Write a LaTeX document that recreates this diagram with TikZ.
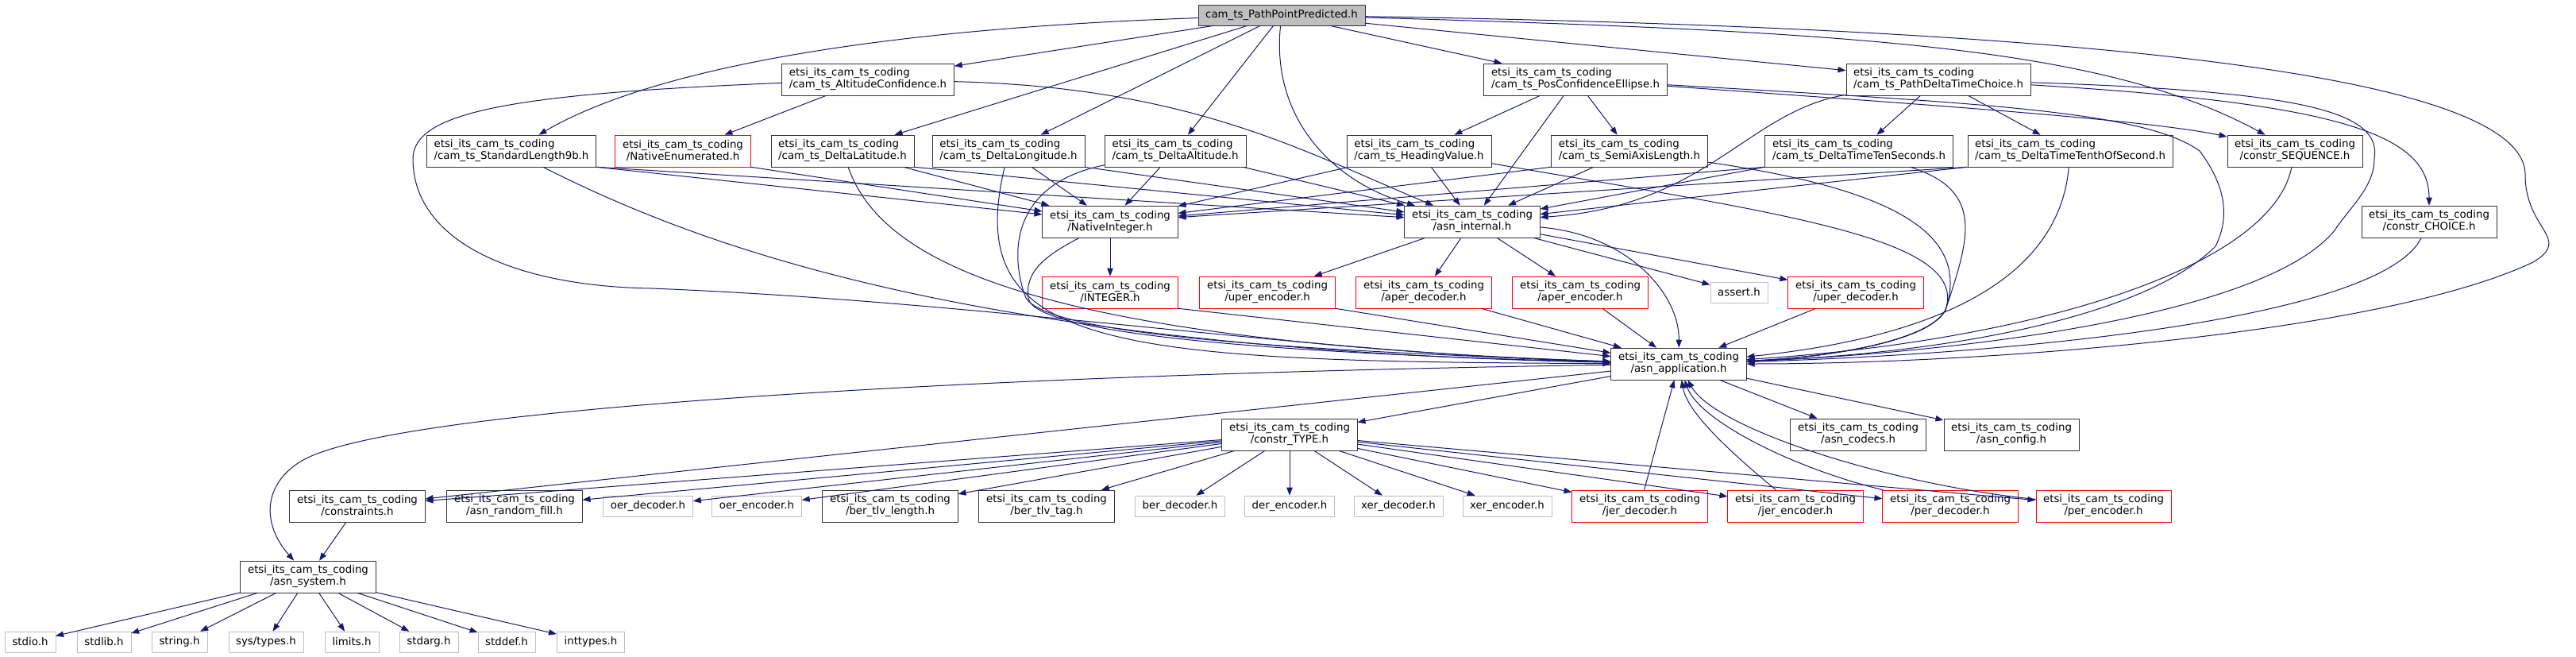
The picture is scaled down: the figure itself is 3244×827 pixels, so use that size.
\documentclass[tikz,border=0pt]{standalone}
\usepackage{fontspec}
\setmainfont{DejaVu Sans}
\usetikzlibrary{arrows.meta}
\definecolor{edgeblue}{RGB}{25,25,112}
\newcommand{\pkgdir}{etsi\_its\_cam\_ts\_coding}

\begin{document}
\begin{tikzpicture}[x=0.75pt, y=-0.75pt, >={Triangle[length=7.5pt,width=5.5pt]},
  every node/.style={font=\fontsize{10}{11.25}\selectfont, inner xsep=7pt, inner ysep=2pt},
  hdr/.style={draw=black!80, fill=white, minimum height=30pt, align=center},
  lhdr/.style={hdr, align=left},
  trunc/.style={hdr, draw=red},
  sys/.style={draw=black!25, fill=white, minimum height=19.5pt},
  rootbox/.style={draw=black!80, fill=black!25, minimum height=19.5pt},
  dep/.style={->, draw=edgeblue, line width=0.75pt}]
\useasboundingbox (0,0) rectangle (3244,827);

% headers
\node (root) at (1614,19) [rootbox] {cam\_ts\_PathPointPredicted.h};
\node (altconf) at (1093,100) [lhdr] {\pkgdir\\/cam\_ts\_AltitudeConfidence.h};
\node (poscell) at (1984,100) [lhdr] {\pkgdir\\/cam\_ts\_PosConfidenceEllipse.h};
\node (pathdtc) at (2441,100) [lhdr] {\pkgdir\\/cam\_ts\_PathDeltaTimeChoice.h};
\node (stdlen) at (644,190) [lhdr] {\pkgdir\\/cam\_ts\_StandardLength9b.h};
\node (natenum) at (860,190) [trunc] {\pkgdir\\/NativeEnumerated.h};
\node (dlat) at (1061,190) [lhdr] {\pkgdir\\/cam\_ts\_DeltaLatitude.h};
\node (dlon) at (1270,190) [lhdr] {\pkgdir\\/cam\_ts\_DeltaLongitude.h};
\node (dalt) at (1480,190) [lhdr] {\pkgdir\\/cam\_ts\_DeltaAltitude.h};
\node (heading) at (1787,190) [lhdr] {\pkgdir\\/cam\_ts\_HeadingValue.h};
\node (semiaxis) at (2052,190) [lhdr] {\pkgdir\\/cam\_ts\_SemiAxisLength.h};
\node (dtten) at (2341,190) [lhdr] {\pkgdir\\/cam\_ts\_DeltaTimeTenSeconds.h};
\node (dttenth) at (2607,190) [lhdr] {\pkgdir\\/cam\_ts\_DeltaTimeTenthOfSecond.h};
\node (cseq) at (2890,190) [hdr] {\pkgdir\\/constr\_SEQUENCE.h};
\node (natint) at (1398,279) [hdr] {\pkgdir\\/NativeInteger.h};
\node (asnint) at (1854,279) [hdr] {\pkgdir\\/asn\_internal.h};
\node (cchoice) at (3059,279) [hdr] {\pkgdir\\/constr\_CHOICE.h};
\node (integer) at (1398,368) [trunc] {\pkgdir\\/INTEGER.h};
\node (uperenc) at (1596,368) [trunc] {\pkgdir\\/uper\_encoder.h};
\node (aperdec) at (1793,368) [trunc] {\pkgdir\\/aper\_decoder.h};
\node (aperenc) at (1990,368) [trunc] {\pkgdir\\/aper\_encoder.h};
\node (assert) at (2190,368) [sys] {assert.h};
\node (uperdec) at (2337,368) [trunc] {\pkgdir\\/uper\_decoder.h};
\node (asnapp) at (2114,458) [hdr] {\pkgdir\\/asn\_application.h};
\node (ctype) at (1624,547) [hdr] {\pkgdir\\/constr\_TYPE.h};
\node (asncodecs) at (2340,547) [hdr] {\pkgdir\\/asn\_codecs.h};
\node (asnconfig) at (2533,547) [hdr] {\pkgdir\\/asn\_config.h};
\node (constraints) at (450,637) [hdr] {\pkgdir\\/constraints.h};
\node (randfill) at (648,637) [hdr] {\pkgdir\\/asn\_random\_fill.h};
\node (oerdec) at (816,637) [sys] {oer\_decoder.h};
\node (oerenc) at (953,637) [sys] {oer\_encoder.h};
\node (bertlvlen) at (1121,637) [hdr] {\pkgdir\\/ber\_tlv\_length.h};
\node (bertlvtag) at (1318,637) [hdr] {\pkgdir\\/ber\_tlv\_tag.h};
\node (berdec) at (1486,637) [sys] {ber\_decoder.h};
\node (derenc) at (1624,637) [sys] {der\_encoder.h};
\node (xerdec) at (1761,637) [sys] {xer\_decoder.h};
\node (xerenc) at (1898,637) [sys] {xer\_encoder.h};
\node (jerdec) at (2065,637) [trunc] {\pkgdir\\/jer\_decoder.h};
\node (jerenc) at (2261,637) [trunc] {\pkgdir\\/jer\_encoder.h};
\node (perdec) at (2456,637) [trunc] {\pkgdir\\/per\_decoder.h};
\node (perenc) at (2649,637) [trunc] {\pkgdir\\/per\_encoder.h};
\node (asnsys) at (388,726) [hdr] {\pkgdir\\/asn\_system.h};
\node (stdio) at (38,808) [sys] {stdio.h};
\node (stdlib) at (131,808) [sys] {stdlib.h};
\node (string) at (226,808) [sys] {string.h};
\node (systypes) at (335,808) [sys] {sys/types.h};
\node (limits) at (443,808) [sys] {limits.h};
\node (stdarg) at (540,808) [sys] {stdarg.h};
\node (stddef) at (638,808) [sys] {stddef.h};
\node (inttypes) at (744,808) [sys] {inttypes.h};

% from the top file
\draw[dep] (root) .. controls (1000,40) and (780,110) .. (stdlen);
\draw[dep] (root) -- (altconf);
\draw[dep] (root) -- (dlat);
\draw[dep] (root) -- (dlon);
\draw[dep] (root) -- (dalt);
\draw[dep] (root) .. controls (1600,150) and (1680,230) .. (asnint);
\draw[dep] (root) -- (poscell);
\draw[dep] (root) -- (pathdtc);
\draw[dep] (root) .. controls (2350,40) and (2650,60) .. (cseq);
\draw[dep] (root) .. controls (2600,35) and (3180,90) .. (3180,220) .. controls (3180,290) and (3240,300) .. (3190,330) .. controls (3000,420) and (2500,458) .. (asnapp);

% second row
\draw[dep] (altconf) -- (natenum);
\draw[dep] (altconf) .. controls (1500,110) and (1640,190) .. (asnint);
\draw[dep] (altconf) .. controls (650,118) and (520,140) .. (520,200) .. controls (520,300) and (640,360) .. (820,363) .. controls (1250,380) and (1650,445) .. (asnapp);
\draw[dep] (poscell) -- (heading);
\draw[dep] (poscell) -- (semiaxis);
\draw[dep] (poscell) -- (asnint);
\draw[dep] (poscell) .. controls (2400,130) and (2700,150) .. (cseq);
\draw[dep] (poscell) .. controls (2500,130) and (2700,140) .. (2770,190) .. controls (2800,230) and (2810,270) .. (2790,310) .. controls (2700,400) and (2450,445) .. (asnapp);
\draw[dep] (pathdtc) -- (dtten);
\draw[dep] (pathdtc) -- (dttenth);
\draw[dep] (pathdtc) .. controls (2200,140) and (2150,260) .. (asnint);
\draw[dep] (pathdtc) .. controls (2950,130) and (3059,170) .. (cchoice);
\draw[dep] (pathdtc) .. controls (2900,115) and (3000,140) .. (2990,200) .. controls (2990,235) and (2960,260) .. (2940,290) .. controls (2850,400) and (2450,445) .. (asnapp);

% third row
\draw[dep] (stdlen.south east) -- (natint);
\draw[dep] (stdlen.south east) -- (asnint);
\draw[dep] (stdlen) .. controls (900,320) and (1250,440) .. (asnapp);
\draw[dep] (natenum.south east) -- (natint);
\draw[dep] (dlat) -- (natint);
\draw[dep] (dlat.south east) -- (asnint);
\draw[dep] (dlat) .. controls (1110,330) and (1300,430) .. (asnapp);
\draw[dep] (dlon) -- (natint);
\draw[dep] (dlon.south east) -- (asnint);
\draw[dep] (dlon) .. controls (1210,440) and (1400,455) .. (asnapp);
\draw[dep] (dalt) -- (natint);
\draw[dep] (dalt) -- (asnint);
\draw[dep] (dalt) .. controls (1280,230) and (1270,310) .. (1290,370) .. controls (1300,420) and (1600,440) .. (asnapp);
\draw[dep] (heading) -- (natint);
\draw[dep] (heading) -- (asnint);
\draw[dep] (heading) .. controls (2250,270) and (2480,300) .. (2450,390) .. controls (2430,430) and (2300,450) .. (asnapp);
\draw[dep] (semiaxis.south west) -- (natint);
\draw[dep] (semiaxis) -- (asnint);
\draw[dep] (semiaxis) .. controls (2400,240) and (2480,300) .. (2450,390) .. controls (2430,430) and (2300,450) .. (asnapp);
\draw[dep] (dtten.south west) -- (natint);
\draw[dep] (dtten.south west) -- (asnint);
\draw[dep] (dtten) .. controls (2500,240) and (2480,300) .. (2450,390) .. controls (2430,430) and (2300,450) .. (asnapp);
\draw[dep] (dttenth.south west) -- (natint);
\draw[dep] (dttenth.south west) -- (asnint);
\draw[dep] (dttenth) .. controls (2595,330) and (2480,420) .. (asnapp);
\draw[dep] (cseq) .. controls (2860,340) and (2550,430) .. (asnapp);
\draw[dep] (cchoice) .. controls (3000,400) and (2550,445) .. (asnapp);

% runtime headers
\draw[dep] (natint) -- (integer);
\draw[dep] (natint) .. controls (1320,320) and (1290,340) .. (1295,375) .. controls (1300,420) and (1600,445) .. (asnapp);
\draw[dep] (asnint) -- (uperenc);
\draw[dep] (asnint) -- (aperdec);
\draw[dep] (asnint) -- (aperenc);
\draw[dep] (asnint) -- (assert);
\draw[dep] (asnint) -- (uperdec);
\draw[dep] (asnint) .. controls (2050,295) and (2115,370) .. (asnapp);
\draw[dep] (integer.south east) -- (asnapp);
\draw[dep] (uperenc.south east) -- (asnapp);
\draw[dep] (aperdec) -- (asnapp);
\draw[dep] (aperenc) -- (asnapp);
\draw[dep] (uperdec) -- (asnapp);
\draw[dep] (asnapp) -- (ctype);
\draw[dep] (asnapp) -- (asncodecs);
\draw[dep] (asnapp) -- (asnconfig);
\draw[dep] (asnapp) -- (constraints);
\draw[dep] (asnapp) .. controls (1300,470) and (500,510) .. (380,580) .. controls (330,610) and (330,660) .. (asnsys);
\foreach \dst in {constraints,randfill,oerdec,oerenc,bertlvlen,bertlvtag,berdec,derenc,xerdec,xerenc,jerdec,jerenc,perdec,perenc}
  \draw[dep] (ctype) -- (\dst);
\draw[dep] (jerdec) -- (asnapp);
\draw[dep] (jerenc) .. controls (2180,570) and (2125,520) .. (asnapp);
\draw[dep] (perdec) .. controls (2260,590) and (2140,530) .. (asnapp);
\draw[dep] (perenc) .. controls (2380,610) and (2160,540) .. (asnapp);
\draw[dep] (constraints) -- (asnsys);
\foreach \dst in {stdio,stdlib,string,systypes,limits,stdarg,stddef,inttypes}
  \draw[dep] (asnsys) -- (\dst);
\end{tikzpicture}
\end{document}
